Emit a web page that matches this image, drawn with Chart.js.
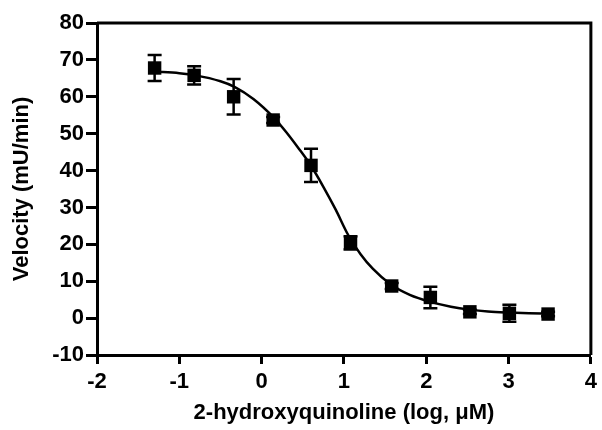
<!DOCTYPE html>
<html>
<head>
<meta charset="utf-8">
<script src="https://cdn.jsdelivr.net/npm/chart.js@4.4.0/dist/chart.umd.min.js"></script>
<style>
  html, body { margin: 0; padding: 0; background: #fff; }
  #wrap { width: 602px; height: 430px; position: relative; }
</style>
</head>
<body>
<div id="wrap"><canvas id="c" width="602" height="430"></canvas></div>
<script>
// Measured points (log concentration, µM) and velocity (mU/min)
const logConc  = [-1.30, -0.82, -0.34, 0.14, 0.60, 1.08, 1.58, 2.05, 2.53, 3.01, 3.48];
const velocity = [67.8, 65.8, 60.0, 53.7, 41.4, 20.4, 8.7, 5.6, 1.7, 1.3, 1.1];
const velocityErr = [3.5, 2.5, 4.8, 0.8, 4.5, 1.8, 0.8, 2.9, 0.6, 2.3, 0.6];

// Fitted curve
const curveX = [-1.30, -1.00, -0.80, -0.50, -0.33, -0.10, 0.15, 0.30, 0.45, 0.60, 0.75, 0.90, 1.05, 1.20, 1.35, 1.57, 1.80, 2.05, 2.30, 2.53, 2.75, 3.00, 3.25, 3.48];
const curveY = [66.8, 66.4, 65.8, 64.2, 62.7, 59.4, 54.3, 50.4, 46.0, 41.3, 35.6, 29.4, 22.6, 17.4, 13.4, 9.1, 6.3, 4.4, 3.1, 2.3, 1.8, 1.5, 1.3, 1.2];

// Axis ticks
const xTicks = [-2, -1, 0, 1, 2, 3, 4];
const yTicks = [-10, 0, 10, 20, 30, 40, 50, 60, 70, 80];

const xTitle = '2-hydroxyquinoline (log, \u03bcM)';
const yTitle = 'Velocity (mU/min)';

const pointData = logConc.map((x, i) => ({ x: x, y: velocity[i] }));
const curveData = curveX.map((x, i) => ({ x: x, y: curveY[i] }));

const errorBars = {
  id: 'errorBars',
  beforeDatasetsDraw(chart) {
    const ctx = chart.ctx, xs = chart.scales.x, ys = chart.scales.y;
    ctx.save();
    ctx.strokeStyle = '#000';
    ctx.lineWidth = 2.5;
    logConc.forEach((x, i) => {
      const px = xs.getPixelForValue(x);
      const top = ys.getPixelForValue(velocity[i] + velocityErr[i]);
      const bot = ys.getPixelForValue(velocity[i] - velocityErr[i]);
      const cap = 7;
      ctx.beginPath();
      ctx.moveTo(px, top); ctx.lineTo(px, bot);
      ctx.moveTo(px - cap, top); ctx.lineTo(px + cap, top);
      ctx.moveTo(px - cap, bot); ctx.lineTo(px + cap, bot);
      ctx.stroke();
    });
    ctx.restore();
  }
};

const frame = {
  id: 'frame',
  afterDraw(chart) {
    const a = chart.chartArea, ctx = chart.ctx;
    ctx.save();
    ctx.strokeStyle = '#000';
    ctx.lineWidth = 3;
    ctx.beginPath();
    ctx.moveTo(a.left, a.top);
    ctx.lineTo(a.right, a.top);
    ctx.lineTo(a.right, a.bottom);
    ctx.stroke();
    ctx.restore();
  }
};

const tickFont = { family: '"Liberation Sans", Arial, sans-serif', size: 22, weight: 'bold' };
const titleFont = { family: '"Liberation Sans", Arial, sans-serif', size: 22, weight: 'bold' };

new Chart(document.getElementById('c'), {
  type: 'scatter',
  data: {
    datasets: [
      {
        label: 'data',
        data: pointData,
        pointStyle: 'rect',
        pointRadius: 9.5,
        pointBackgroundColor: '#000',
        pointBorderColor: '#000',
        pointBorderWidth: 0,
        showLine: false,
        order: 0
      },
      {
        label: 'fit',
        data: curveData,
        showLine: true,
        borderColor: '#000',
        borderWidth: 2.5,
        pointRadius: 0,
        cubicInterpolationMode: 'monotone',
        fill: false,
        order: 1
      }
    ]
  },
  options: {
    responsive: false,
    animation: false,
    devicePixelRatio: 1,
    layout: { padding: { left: 9, top: 23, right: 7, bottom: 4 } },
    plugins: { legend: { display: false }, tooltip: { enabled: false } },
    scales: {
      x: {
        type: 'linear',
        min: -2, max: 4,
        afterBuildTicks: s => { s.ticks = xTicks.map(v => ({ value: v })); },
        afterFit: s => { s.height = 71; },
        grid: { display: true, drawOnChartArea: false, drawTicks: true, tickLength: 9, tickWidth: 3, color: '#000' },
        border: { display: true, width: 3, color: '#000' },
        ticks: { color: '#000', font: tickFont, padding: 5, maxRotation: 0 },
        title: { display: true, text: xTitle, color: '#000', font: titleFont, padding: { top: 0, bottom: 0 } }
      },
      y: {
        type: 'linear',
        min: -10, max: 80,
        afterBuildTicks: s => { s.ticks = yTicks.map(v => ({ value: v })); },
        afterFit: s => { s.width = 88; },
        grid: { display: true, drawOnChartArea: false, drawTicks: true, tickLength: 11, tickWidth: 3, color: '#000' },
        border: { display: true, width: 3, color: '#000' },
        ticks: { color: '#000', font: tickFont, padding: 2 },
        title: { display: true, text: yTitle, color: '#000', font: titleFont, padding: { top: 0, bottom: 0 } }
      }
    }
  },
  plugins: [errorBars, frame]
});
</script>
</body>
</html>
